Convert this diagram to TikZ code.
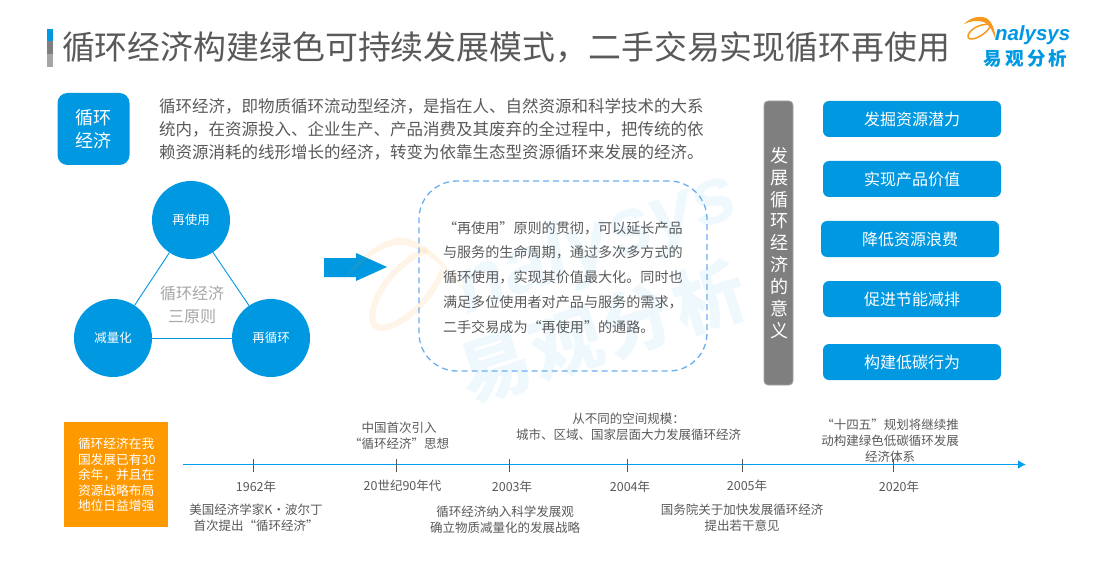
\documentclass[tikz,border=0pt]{standalone}
\usepackage{fontspec}
\setmainfont{Noto Sans CJK SC}
\newfontfamily\latinit{Liberation Sans}
\usetikzlibrary{arrows.meta}
\definecolor{brandblue}{HTML}{0098E1}
\definecolor{linkblue}{HTML}{00A0F0}
\definecolor{txtgray}{HTML}{595959}
\definecolor{barmid}{HTML}{7F7F7F}
\definecolor{barlight}{HTML}{A6A6A6}
\definecolor{dashblue}{HTML}{6AAEF0}
\definecolor{logoorange}{HTML}{F7981D}
\definecolor{boxorange}{HTML}{FF9900}
\newcommand{\fs}[2]{\fontsize{#1}{#2}\selectfont}
\tikzset{
  every node/.style={inner sep=0pt,outer sep=0pt},
  bluebox/.style={fill=brandblue,rounded corners=6pt,text=white,font=\fs{16}{20},minimum width=178pt,minimum height=36pt},
  circ/.style={circle,fill=brandblue,text=white,minimum size=78pt,font=\fs{12.5}{15}},
  tlabel/.style={text=txtgray,font=\fs{12.5}{15.8},align=center},
  yearlabel/.style={text=txtgray,font=\fs{12.5}{15}},
  tick/.style={draw=txtgray,line width=0.8pt},
  tri/.style={draw=brandblue,line width=0.9pt},
  wmb/.style={text=brandblue,text opacity=0.065},
  wmo/.style={logoorange,opacity=0.1},
}
\begin{document}
\begin{tikzpicture}[x=1pt,y=-1pt]
\useasboundingbox (0,0) rectangle (1096,583);
% title
\fill[brandblue] (47,29) rectangle (53,41);
\fill[barmid] (47,41) rectangle (53,54);
\fill[barlight] (47,54) rectangle (53,67);
\node[anchor=west,text=txtgray,font=\fs{32.9}{36}] (title) at (62,47) {循环经济构建绿色可持续发展模式，二手交易实现循环再使用};
% logo
\fill[logoorange] (964,24) .. controls (970,18) and (979,15) .. (986,18) .. controls (992,21) and (995,30) .. (996,41) .. controls (993,32) and (990,25) .. (984,22) .. controls (977,20) and (970,21) .. (964,24) -- cycle;
\draw[logoorange,line width=1.5pt] (990,24.5) .. controls (978,23) and (967,32) .. (968,37) .. controls (969,42) and (984,37) .. (990,27);
\node[anchor=base west,text=brandblue,font=\latinit\itshape\bfseries\fs{20.5}{24}] (logotext) at (995,41) {nalysys};
\node[text=brandblue,font=\bfseries\fs{18.5}{22}] (logocn) at (1025.5,59) {易\,观\,分\,析};
% intro
\node[fill=brandblue,rounded corners=10pt,minimum width=72pt,minimum height=72pt,text=white,font=\fs{18}{23},align=center] (intro) at (93.5,129) {循环\\经济};
\node[anchor=north west,text=txtgray,font=\fs{16.5}{23.3},align=left] (introtext) at (159,98) {循环经济，即物质循环流动型经济，是指在人、自然资源和科学技术的大系\\统内，在资源投入、企业生产、产品消费及其废弃的全过程中，把传统的依\\赖资源消耗的线形增长的经济，转变为依靠生态型资源循环来发展的经济。};
% three principles
\node[circ] (reuse) at (191,220) {再使用};
\node[circ] (reduce) at (113,338) {减量化};
\node[circ] (recycle) at (271,338) {再循环};
\draw[tri] (reuse) -- (reduce);
\draw[tri] (reduce) -- (recycle);
\draw[tri] (recycle) -- (reuse);
\node[text=barlight,font=\fs{16}{23},align=center] (tricap) at (192,304.5) {循环经济\\三原则};
% arrow
\fill[brandblue] (324,258) -- (356,258) -- (356,253) -- (387,267) -- (356,281) -- (356,277) -- (324,277) -- cycle;
% watermark (lies over the arrow)
\fill[wmo] (343,281) .. controls (360,255) and (385,236) .. (403,238) .. controls (425,240) and (445,262) .. (470,296) .. controls (445,268) and (425,248) .. (403,245) .. controls (385,243) and (360,262) .. (343,281) -- cycle;
\draw[wmo,line width=6pt] (427,250) .. controls (395,262) and (368,300) .. (373,322) .. controls (378,340) and (425,315) .. (443,270);
\node[rotate=20,wmb,font=\latinit\itshape\bfseries\fs{80}{80}] (wm1) at (597,245) {nalysys};
\node[rotate=18,wmb,font=\bfseries\fs{72}{76}] (wm2) at (602,332) {易\kern3pt 观\kern3pt 分\kern3pt 析};
% dashed box
\node[draw=dashblue,dash pattern=on 6pt off 4pt,line width=1.3pt,rounded corners=38pt,minimum width=288pt,minimum height=190pt] (dbox) at (563,276) {};
\node[anchor=west,text=txtgray,font=\fs{14.1}{24.9},align=left] (dtext) at (443,277.5) {“再使用”原则的贯彻，可以延长产品\\与服务的生命周期，通过多次多方式的\\循环使用，实现其价值最大化。同时也\\满足多位使用者对产品与服务的需求，\\二手交易成为“再使用”的通路。};
% meaning
\node[fill=barmid,draw=barmid!70!white,line width=0.8pt,rounded corners=4pt,minimum width=29pt,minimum height=284pt] (mbar) at (778.5,243) {};
\node[text=white,font=\fs{18}{21.9},align=center] (mtext) at (779,243) {发\\展\\循\\环\\经\\济\\的\\意\\义};
\node[bluebox] (m1) at (912,119) {发掘资源潜力};
\node[bluebox] (m2) at (912,179) {实现产品价值};
\node[bluebox] (m3) at (910,239) {降低资源浪费};
\node[bluebox] (m4) at (912,299) {促进节能减排};
\node[bluebox] (m5) at (912,362) {构建低碳行为};
% timeline
\node[fill=boxorange,minimum width=104pt,minimum height=105pt] (obox) at (116,474.5) {};
\node[anchor=west,text=white,font=\fs{12.7}{15.5},align=left] (otext) at (78,475) {循环经济在我\\国发展已有30\\余年，并且在\\资源战略布局\\地位日益增强};
\coordinate (ts) at (183,464.5);
\coordinate (te) at (1026,464.5);
\draw[linkblue,line width=1.6pt,-{Latex[length=8pt,width=9pt]}] (ts) -- (te);
\foreach \x in {253,396,509,627,742,893} \draw[tick] (\x,459) -- (\x,472);
\node[yearlabel] (y1) at (256,487) {1962年};
\node[yearlabel] (y2) at (402.5,486) {20世纪90年代};
\node[yearlabel] (y3) at (512,487) {2003年};
\node[yearlabel] (y4) at (630,487) {2004年};
\node[yearlabel] (y5) at (747,486) {2005年};
\node[yearlabel] (y6) at (899,487) {2020年};
\node[tlabel] (l1) at (256,517.5) {美国经济学家K·波尔丁\\首次提出“循环经济”};
\node[tlabel] (l2) at (399,436) {中国首次引入\\“循环经济”思想};
\node[tlabel] (l3) at (505,520) {循环经济纳入科学发展观\\确立物质减量化的发展战略};
\node[tlabel] (l4) at (628.5,426.5) {从不同的空间规模：\\城市、区域、国家层面大力发展循环经济};
\node[tlabel] (l5) at (742,518) {国务院关于加快发展循环经济\\提出若干意见};
\node[tlabel] (l6) at (890,440.5) {“十四五”规划将继续推\\动构建绿色低碳循环发展\\经济体系};
\end{tikzpicture}
\end{document}
